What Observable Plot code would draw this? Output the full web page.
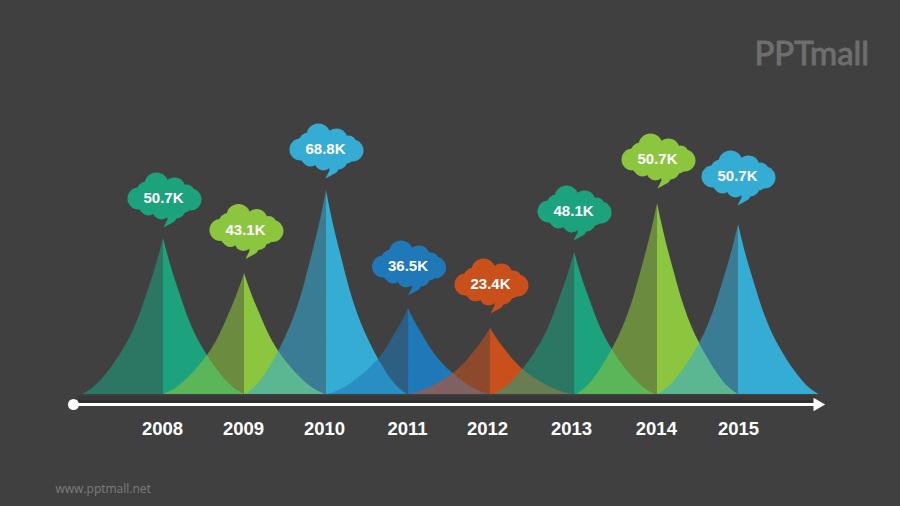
<!DOCTYPE html>
<html>
<head>
<meta charset="utf-8">
<script src="https://cdn.jsdelivr.net/npm/d3@7"></script>
<script src="https://cdn.jsdelivr.net/npm/@observablehq/plot@0.6"></script>
<style>
  html, body { margin: 0; padding: 0; background: #404040; }
  g[aria-label="logo"] text { letter-spacing: 1px; }
</style>
</head>
<body>
<div id="chart"></div>
<script>
// Values
const years = [2008, 2009, 2010, 2011, 2012, 2013, 2014, 2015];
const labels = ['50.7K', '43.1K', '68.8K', '36.5K', '23.4K', '48.1K', '50.7K', '50.7K'];
const colors = ['#1ca37e', '#8cc63f', '#35acd4', '#1f78b8', '#c9501a', '#1ca37e', '#8cc63f', '#35acd4'];
const peakHeights = [156, 121, 204, 86, 66, 142, 191, 170];
const peakYears = [2008, 2008.986, 2009.984, 2010.983, 2011.981, 2013.004, 2014.014, 2015];
const yearTickAt = [2007.988, 2008.974, 2009.96, 2010.97, 2011.944, 2012.967, 2014, 2015];

// Speech clouds: where each one sits
const cloudYears = [2008.012, 2009.01, 2009.984, 2010.989, 2011.993, 2013.004, 2014.026, 2015];
const cloudHeights = [196, 164.5, 245, 128, 110, 183, 235, 218];

// Shape of one flank of a peak, as share of the width and of the height
const flankOut = [0, 0.05, 0.1, 0.2, 0.3, 0.4, 0.5, 0.6, 0.7, 0.8, 0.9, 1];
const flankUp = [1, 0.9, 0.81, 0.65, 0.5, 0.38, 0.285, 0.205, 0.135, 0.075, 0.03, 0];

// Shape of one cloud: lobes and tail, in px around its centre
const lobeX = [-13, 13, 0, -26, -8, 10, 26, -18, -16, -3, 12, 22, -18, 20];
const lobeY = [1, 1, -2, 0, -14, -10, 1, -7, 9, 12, 11, -6, 7, 7];
const lobeR = [14, 14, 15, 11, 12, 11, 11, 10, 8, 9, 9, 8, 8, 7];
const tailX = [2, 16, 10, -1, 3];
const tailY = [12, 14, 23, 29, 21];

const pxPerYear = 82.14;
const flankWidth = 0.985;

// One row per point of each half peak
function halfPeak(side) {
  return years.flatMap((year, i) =>
    flankOut.map((out, k) => ({
      year,
      x: peakYears[i] + side * out * flankWidth,
      y: flankUp[k] * peakHeights[i],
      color: colors[i]
    })).sort((a, b) => a.x - b.x)
  );
}

const lobes = years.flatMap((year, i) =>
  lobeX.map((dx, k) => ({
    x: cloudYears[i] + dx / pxPerYear,
    y: cloudHeights[i] - lobeY[k],
    r: lobeR[k],
    color: colors[i]
  }))
);

const tails = years.flatMap((year, i) =>
  tailX.map((dx, k) => ({
    year,
    x: cloudYears[i] + dx / pxPerYear,
    y: cloudHeights[i] - tailY[k],
    color: colors[i]
  }))
);

const peaks = years.map((year, i) => ({ year, i }));

const chart = Plot.plot({
  width: 900,
  height: 506,
  margin: 0,
  style: { background: '#404040', fontFamily: 'Liberation Sans, Arial, sans-serif' },
  x: { domain: [2008, 2015], range: [163, 738], axis: null },
  y: { domain: [0, 394], range: [394, 0], axis: null },
  color: { type: 'identity' },
  r: { type: 'identity' },
  marks: [
    // Right halves are solid, left halves sit over them see-through
    Plot.areaY(halfPeak(1), { x: 'x', y1: 0, y2: 'y', z: 'year', fill: 'color', curve: 'monotone-x' }),
    Plot.areaY(halfPeak(-1), { x: 'x', y1: 0, y2: 'y', z: 'year', fill: 'color', fillOpacity: 0.56, curve: 'monotone-x' }),

    // Timeline
    Plot.ruleY([-4], { x1: 2006.96, x2: 2015.95, stroke: '#383838', strokeWidth: 6 }),
    Plot.ruleY([-7], { x1: 2006.96, x2: 2015.95, stroke: '#262626', strokeWidth: 1.5 }),
    Plot.ruleY([-10], { x1: 2006.904, x2: 2015.97, stroke: '#fff', strokeWidth: 3 }),
    Plot.dot([2006.904], { x: d => d, y: -10, r: 5.5, fill: '#fff' }),
    Plot.dot([2015.96], { x: d => d, y: -10, r: 5, symbol: 'triangle', rotate: 90, fill: '#fff' }),

    // Clouds
    Plot.dot(lobes, { x: 'x', y: 'y', r: 'r', fill: 'color' }),
    Plot.line(tails, { x: 'x', y: 'y', z: 'year', fill: 'color', stroke: null, curve: 'linear-closed' }),
    Plot.text(peaks, {
      x: d => cloudYears[d.i], y: d => cloudHeights[d.i], text: d => labels[d.i], dx: -1,
      fill: '#fff', fontSize: 15, fontWeight: 'bold'
    }),

    // Year labels
    Plot.text(peaks, {
      x: d => yearTickAt[d.i], y: -35, text: d => String(d.year),
      fill: '#fff', fontSize: 18.5, fontWeight: 'bold'
    }),

    // Logo and address
    Plot.text(['PPTmall'], {
      frameAnchor: 'top-left', dx: 754, dy: 41, text: d => d, textAnchor: 'start',
      fill: '#6e6e6e', stroke: '#6e6e6e', strokeWidth: 1, fontSize: 33, fontFamily: 'Lato', ariaLabel: 'logo'
    }),
    Plot.text(['www.pptmall.net'], {
      frameAnchor: 'top-left', dx: 55, dy: 484, text: d => d, textAnchor: 'start',
      fill: '#7d7d7d', fontSize: 12, fontFamily: 'Open Sans'
    })
  ]
});

document.getElementById('chart').append(chart);
</script>
</body>
</html>
